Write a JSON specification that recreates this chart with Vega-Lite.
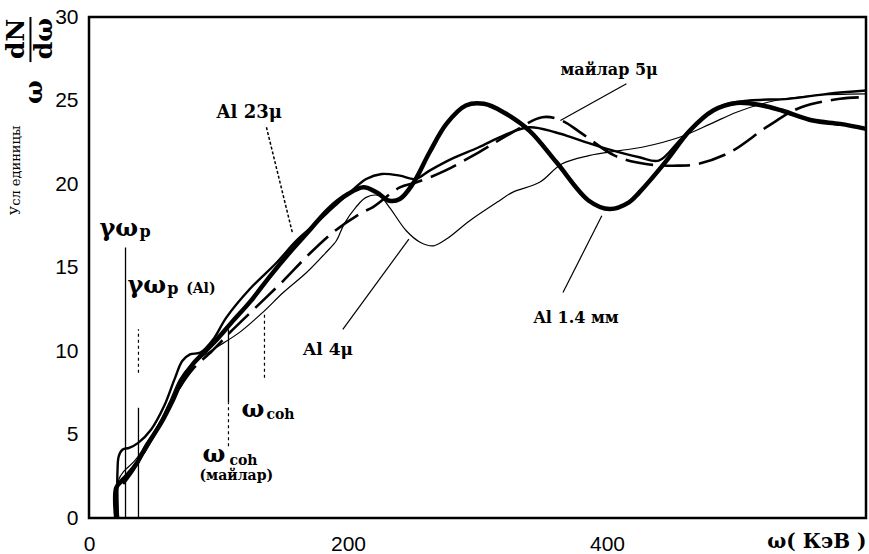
{
  "$schema": "https://vega.github.io/schema/vega-lite/v6.json",
  "width": 777,
  "height": 501,
  "autosize": {"type": "none"},
  "padding": {"left": 89, "top": 17, "right": 3, "bottom": 36},
  "background": "white",
  "config": {
    "view": {"stroke": "black", "strokeWidth": 2.5},
    "axis": {"grid": false, "domain": false, "labelFont": "Liberation Sans", "labelFontSize": 21, "labelColor": "black", "titleColor": "black", "labelOverlap": false, "labelFlush": false}
  },
  "datasets": {
    "curves": [
      {"s":"t","x":21,"y":0},{"s":"t","x":21,"y":1.8},{"s":"t","x":25,"y":2.2},{"s":"t","x":30,"y":2.6},{"s":"t","x":37,"y":3.3},{"s":"t","x":45,"y":4.4},{"s":"t","x":55,"y":5.6},{"s":"t","x":65,"y":7.1},{"s":"t","x":72,"y":8.3},{"s":"t","x":80,"y":9.2},{"s":"t","x":90,"y":10.0},{"s":"t","x":100,"y":10.8},{"s":"t","x":110,"y":11.7},{"s":"t","x":125,"y":13.0},{"s":"t","x":140,"y":14.5},{"s":"t","x":155,"y":15.9},{"s":"t","x":170,"y":17.2},{"s":"t","x":185,"y":18.5},{"s":"t","x":200,"y":19.4},{"s":"t","x":212,"y":19.8},{"s":"t","x":222,"y":19.5},{"s":"t","x":232,"y":19.0},{"s":"t","x":240,"y":19.1},{"s":"t","x":250,"y":20.0},{"s":"t","x":263,"y":21.9},{"s":"t","x":276,"y":23.6},{"s":"t","x":291,"y":24.7},{"s":"t","x":305,"y":24.8},{"s":"t","x":320,"y":24.3},{"s":"t","x":340,"y":23.2},{"s":"t","x":361,"y":21.3},{"s":"t","x":386,"y":19.0},{"s":"t","x":402,"y":18.5},{"s":"t","x":417,"y":18.9},{"s":"t","x":425,"y":19.5},{"s":"t","x":446,"y":21.4},{"s":"t","x":464,"y":23.2},{"s":"t","x":482,"y":24.4},{"s":"t","x":500,"y":24.85},{"s":"t","x":520,"y":24.7},{"s":"t","x":535,"y":24.4},{"s":"t","x":559,"y":23.8},{"s":"t","x":580,"y":23.6},{"s":"t","x":600,"y":23.3},
      {"s":"m","x":22,"y":0},{"s":"m","x":22,"y":2.8},{"s":"m","x":23,"y":3.7},{"s":"m","x":26,"y":4.1},{"s":"m","x":31,"y":4.2},{"s":"m","x":38,"y":4.5},{"s":"m","x":48,"y":5.3},{"s":"m","x":58,"y":6.7},{"s":"m","x":66,"y":8.3},{"s":"m","x":72,"y":9.4},{"s":"m","x":78,"y":9.8},{"s":"m","x":86,"y":9.9},{"s":"m","x":96,"y":10.7},{"s":"m","x":106,"y":12.0},{"s":"m","x":124,"y":13.7},{"s":"m","x":145,"y":15.3},{"s":"m","x":160,"y":16.6},{"s":"m","x":176,"y":17.7},{"s":"m","x":190,"y":18.7},{"s":"m","x":203,"y":19.6},{"s":"m","x":214,"y":20.3},{"s":"m","x":226,"y":20.6},{"s":"m","x":240,"y":20.5},{"s":"m","x":252,"y":20.3},{"s":"m","x":263,"y":20.8},{"s":"m","x":280,"y":21.5},{"s":"m","x":301,"y":22.2},{"s":"m","x":320,"y":22.9},{"s":"m","x":340,"y":23.4},{"s":"m","x":360,"y":23.1},{"s":"m","x":380,"y":22.6},{"s":"m","x":400,"y":22.1},{"s":"m","x":425,"y":21.6},{"s":"m","x":440,"y":21.4},{"s":"m","x":456,"y":22.6},{"s":"m","x":470,"y":23.7},{"s":"m","x":489,"y":24.7},{"s":"m","x":510,"y":25.0},{"s":"m","x":540,"y":25.1},{"s":"m","x":570,"y":25.4},{"s":"m","x":600,"y":25.6},
      {"s":"n","x":23,"y":0},{"s":"n","x":23,"y":2.3},{"s":"n","x":27,"y":2.8},{"s":"n","x":35,"y":3.4},{"s":"n","x":45,"y":4.5},{"s":"n","x":55,"y":5.8},{"s":"n","x":63,"y":7.1},{"s":"n","x":70,"y":8.3},{"s":"n","x":78,"y":9.1},{"s":"n","x":88,"y":9.7},{"s":"n","x":98,"y":10.2},{"s":"n","x":116,"y":11.1},{"s":"n","x":134,"y":12.3},{"s":"n","x":150,"y":13.5},{"s":"n","x":168,"y":14.7},{"s":"n","x":183,"y":15.9},{"s":"n","x":191,"y":16.6},{"s":"n","x":197,"y":17.6},{"s":"n","x":206,"y":18.6},{"s":"n","x":214,"y":19.2},{"s":"n","x":224,"y":19.3},{"s":"n","x":232,"y":18.6},{"s":"n","x":245,"y":17.2},{"s":"n","x":256,"y":16.5},{"s":"n","x":266,"y":16.3},{"s":"n","x":276,"y":16.7},{"s":"n","x":294,"y":17.8},{"s":"n","x":315,"y":18.9},{"s":"n","x":327,"y":19.5},{"s":"n","x":348,"y":20.1},{"s":"n","x":365,"y":21.2},{"s":"n","x":386,"y":21.7},{"s":"n","x":410,"y":22.0},{"s":"n","x":427,"y":22.2},{"s":"n","x":456,"y":22.8},{"s":"n","x":480,"y":23.6},{"s":"n","x":500,"y":24.3},{"s":"n","x":530,"y":25.0},{"s":"n","x":560,"y":25.3},{"s":"n","x":600,"y":25.4},
      {"s":"d","x":21,"y":0},{"s":"d","x":21,"y":1.6},{"s":"d","x":26,"y":2.0},{"s":"d","x":32,"y":2.6},{"s":"d","x":40,"y":3.6},{"s":"d","x":50,"y":4.9},{"s":"d","x":60,"y":6.3},{"s":"d","x":70,"y":7.8},{"s":"d","x":80,"y":8.9},{"s":"d","x":95,"y":10.0},{"s":"d","x":110,"y":11.2},{"s":"d","x":130,"y":12.7},{"s":"d","x":150,"y":14.2},{"s":"d","x":170,"y":15.8},{"s":"d","x":190,"y":17.2},{"s":"d","x":211,"y":18.3},{"s":"d","x":219,"y":18.6},{"s":"d","x":240,"y":19.8},{"s":"d","x":253,"y":20.1},{"s":"d","x":275,"y":20.8},{"s":"d","x":301,"y":21.9},{"s":"d","x":325,"y":23.0},{"s":"d","x":350,"y":24.0},{"s":"d","x":365,"y":23.8},{"s":"d","x":381,"y":23.0},{"s":"d","x":406,"y":21.7},{"s":"d","x":430,"y":21.2},{"s":"d","x":455,"y":21.1},{"s":"d","x":470,"y":21.2},{"s":"d","x":495,"y":21.9},{"s":"d","x":525,"y":23.5},{"s":"d","x":550,"y":24.6},{"s":"d","x":580,"y":25.1},{"s":"d","x":600,"y":25.2}
    ],
    "vlines": [
      {"x":28.2,"y":0,"y2":16.2,"k":"solid"},
      {"x":38.2,"y":0,"y2":6.6,"k":"solid"},
      {"x":38.2,"y":8.7,"y2":11.3,"k":"dot"},
      {"x":107.7,"y":6.9,"y2":11.3,"k":"solid"},
      {"x":107.7,"y":4.3,"y2":6.9,"k":"dot"},
      {"x":135.5,"y":8.4,"y2":12.3,"k":"dot"}
    ],
    "leaders": [
      {"x":137,"y":23.4,"x2":157,"y2":17.1,"k":"dot"},
      {"x":415,"y":26.0,"x2":364,"y2":23.8,"k":"solid"},
      {"x":196,"y":11.3,"x2":247,"y2":16.7,"k":"solid"},
      {"x":366,"y":13.5,"x2":396,"y2":18.1,"k":"solid"}
    ],
    "labels": [
      {"t":"γω","x":8.1,"y":16.9,"g":"greek"},
      {"t":"γω","x":29.7,"y":13.5,"g":"greek"},
      {"t":"ω","x":117.8,"y":6.05,"g":"greek"},
      {"t":"ω","x":87.6,"y":3.35,"g":"greek"},
      {"t":"p","x":39,"y":16.8,"g":"sub"},
      {"t":"p","x":60.5,"y":13.4,"g":"sub"},
      {"t":"coh","x":137,"y":5.9,"g":"coh"},
      {"t":"coh","x":108.5,"y":3.2,"g":"coh"},
      {"t":"(Al)","x":75,"y":13.5,"g":"small"},
      {"t":"(майлар)","x":85.3,"y":2.3,"g":"small"},
      {"t":"Al 23μ","x":98.5,"y":23.95,"g":"label"},
      {"t":"Al 4μ","x":165.3,"y":9.75,"g":"label2"},
      {"t":"Al 1.4 мм","x":343.2,"y":11.7,"g":"label3"},
      {"t":"майлар 5μ","x":364,"y":26.5,"g":"label3"}
    ],
    "ylab": [
      {"t":"dN","x":-56,"y":28.7},
      {"t":"dω","x":-34.4,"y":28.7},
      {"t":"ω","x":-42.1,"y":25.5}
    ],
    "bar": [{"x":-45.2,"y":30.0,"y2":27.3}],
    "xt": [{"x":100},{"x":200},{"x":300},{"x":400},{"x":500}],
    "yt": [{"y":2.5},{"y":5},{"y":7.5},{"y":10},{"y":12.5},{"y":15},{"y":17.5},{"y":20},{"y":22.5},{"y":25},{"y":27.5}]
  },
  "layer": [
    {
      "encoding": {
        "x": {"field": "x", "type": "quantitative", "scale": {"domain": [0, 600], "nice": false, "zero": false},
          "axis": {"values": [0, 200, 400], "labelPadding": 15, "ticks": false,
            "title": "ω( КэВ )", "titleFont": "DejaVu Serif", "titleFontWeight": "bold", "titleFontSize": 20, "titleX": 777, "titleY": 29, "titleAlign": "right", "titleBaseline": "alphabetic", "titleAngle": 0}},
        "y": {"field": "y", "type": "quantitative", "scale": {"domain": [0, 30], "nice": false},
          "axis": {"values": [0, 5, 10, 15, 20, 25, 30], "labelPadding": 11, "ticks": false,
            "title": "Усл единицы", "titleFont": "DejaVu Serif", "titleFontWeight": "normal", "titleFontSize": 13, "titleX": -74, "titleY": 153, "titleAngle": 270, "titleAlign": "center", "titleBaseline": "middle"}}
      },
      "layer": [
        {"data": {"name": "xt"}, "mark": {"type": "tick", "orient": "vertical", "color": "black", "thickness": 2, "size": 8, "yOffset": -4},
         "encoding": {"y": {"datum": 0}}},
        {"data": {"name": "xt"}, "mark": {"type": "tick", "orient": "vertical", "color": "black", "thickness": 2, "size": 8, "yOffset": 4},
         "encoding": {"y": {"datum": 30}}},
        {"data": {"name": "yt"}, "mark": {"type": "tick", "orient": "horizontal", "color": "black", "thickness": 2, "size": 7, "xOffset": 3.5},
         "encoding": {"x": {"datum": 0}}},
        {"data": {"name": "yt"}, "mark": {"type": "tick", "orient": "horizontal", "color": "black", "thickness": 2, "size": 7, "xOffset": -3.5},
         "encoding": {"x": {"datum": 600}}},
        {"data": {"name": "curves"}, "transform": [{"filter": "datum.s == 'n'"}],
         "mark": {"type": "line", "interpolate": "catmull-rom", "color": "black", "strokeWidth": 1.2}},
        {"data": {"name": "curves"}, "transform": [{"filter": "datum.s == 'd'"}],
         "mark": {"type": "line", "interpolate": "catmull-rom", "color": "black", "strokeWidth": 2.6, "strokeDash": [28, 9]}},
        {"data": {"name": "curves"}, "transform": [{"filter": "datum.s == 'm'"}],
         "mark": {"type": "line", "interpolate": "catmull-rom", "color": "black", "strokeWidth": 2.4}},
        {"data": {"name": "curves"}, "transform": [{"filter": "datum.s == 't'"}],
         "mark": {"type": "line", "interpolate": "catmull-rom", "color": "black", "strokeWidth": 4.5}},
        {"data": {"name": "vlines"}, "transform": [{"filter": "datum.k == 'solid'"}],
         "mark": {"type": "rule", "color": "black", "strokeWidth": 1.3},
         "encoding": {"y2": {"field": "y2"}}},
        {"data": {"name": "vlines"}, "transform": [{"filter": "datum.k == 'dot'"}],
         "mark": {"type": "rule", "color": "black", "strokeWidth": 1.2, "strokeDash": [3, 3]},
         "encoding": {"y2": {"field": "y2"}}},
        {"data": {"name": "leaders"}, "transform": [{"filter": "datum.k == 'solid'"}],
         "mark": {"type": "rule", "color": "black", "strokeWidth": 1.2},
         "encoding": {"x2": {"field": "x2"}, "y2": {"field": "y2"}}},
        {"data": {"name": "leaders"}, "transform": [{"filter": "datum.k == 'dot'"}],
         "mark": {"type": "rule", "color": "black", "strokeWidth": 1.5, "strokeDash": [3, 2]},
         "encoding": {"x2": {"field": "x2"}, "y2": {"field": "y2"}}},
        {"data": {"name": "labels"}, "transform": [{"filter": "datum.g == 'greek'"}],
         "mark": {"type": "text", "align": "left", "baseline": "alphabetic", "font": "DejaVu Serif", "fontWeight": "bold", "fontSize": 24, "color": "black"},
         "encoding": {"text": {"field": "t"}}},
        {"data": {"name": "labels"}, "transform": [{"filter": "datum.g == 'sub'"}],
         "mark": {"type": "text", "align": "left", "baseline": "alphabetic", "font": "DejaVu Serif", "fontWeight": "bold", "fontSize": 16, "color": "black"},
         "encoding": {"text": {"field": "t"}}},
        {"data": {"name": "labels"}, "transform": [{"filter": "datum.g == 'coh'"}],
         "mark": {"type": "text", "align": "left", "baseline": "alphabetic", "font": "DejaVu Serif", "fontWeight": "bold", "fontSize": 14, "color": "black"},
         "encoding": {"text": {"field": "t"}}},
        {"data": {"name": "labels"}, "transform": [{"filter": "datum.g == 'small'"}],
         "mark": {"type": "text", "align": "left", "baseline": "alphabetic", "font": "DejaVu Serif", "fontWeight": "bold", "fontSize": 14, "color": "black"},
         "encoding": {"text": {"field": "t"}}},
        {"data": {"name": "labels"}, "transform": [{"filter": "datum.g == 'label'"}],
         "mark": {"type": "text", "align": "left", "baseline": "alphabetic", "font": "DejaVu Serif", "fontWeight": "bold", "fontSize": 18, "color": "black"},
         "encoding": {"text": {"field": "t"}}},
        {"data": {"name": "labels"}, "transform": [{"filter": "datum.g == 'label2'"}],
         "mark": {"type": "text", "align": "left", "baseline": "alphabetic", "font": "DejaVu Serif", "fontWeight": "bold", "fontSize": 17, "color": "black"},
         "encoding": {"text": {"field": "t"}}},
        {"data": {"name": "labels"}, "transform": [{"filter": "datum.g == 'label3'"}],
         "mark": {"type": "text", "align": "left", "baseline": "alphabetic", "font": "DejaVu Serif", "fontWeight": "bold", "fontSize": 16, "color": "black"},
         "encoding": {"text": {"field": "t"}}},
        {"data": {"name": "ylab"},
         "mark": {"type": "text", "align": "center", "baseline": "middle", "angle": 270, "font": "DejaVu Serif", "fontWeight": "bold", "fontSize": 25, "color": "black"},
         "encoding": {"text": {"field": "t"}}},
        {"data": {"name": "bar"},
         "mark": {"type": "rule", "color": "black", "strokeWidth": 2},
         "encoding": {"y2": {"field": "y2"}}}
      ]
    }
  ]
}
